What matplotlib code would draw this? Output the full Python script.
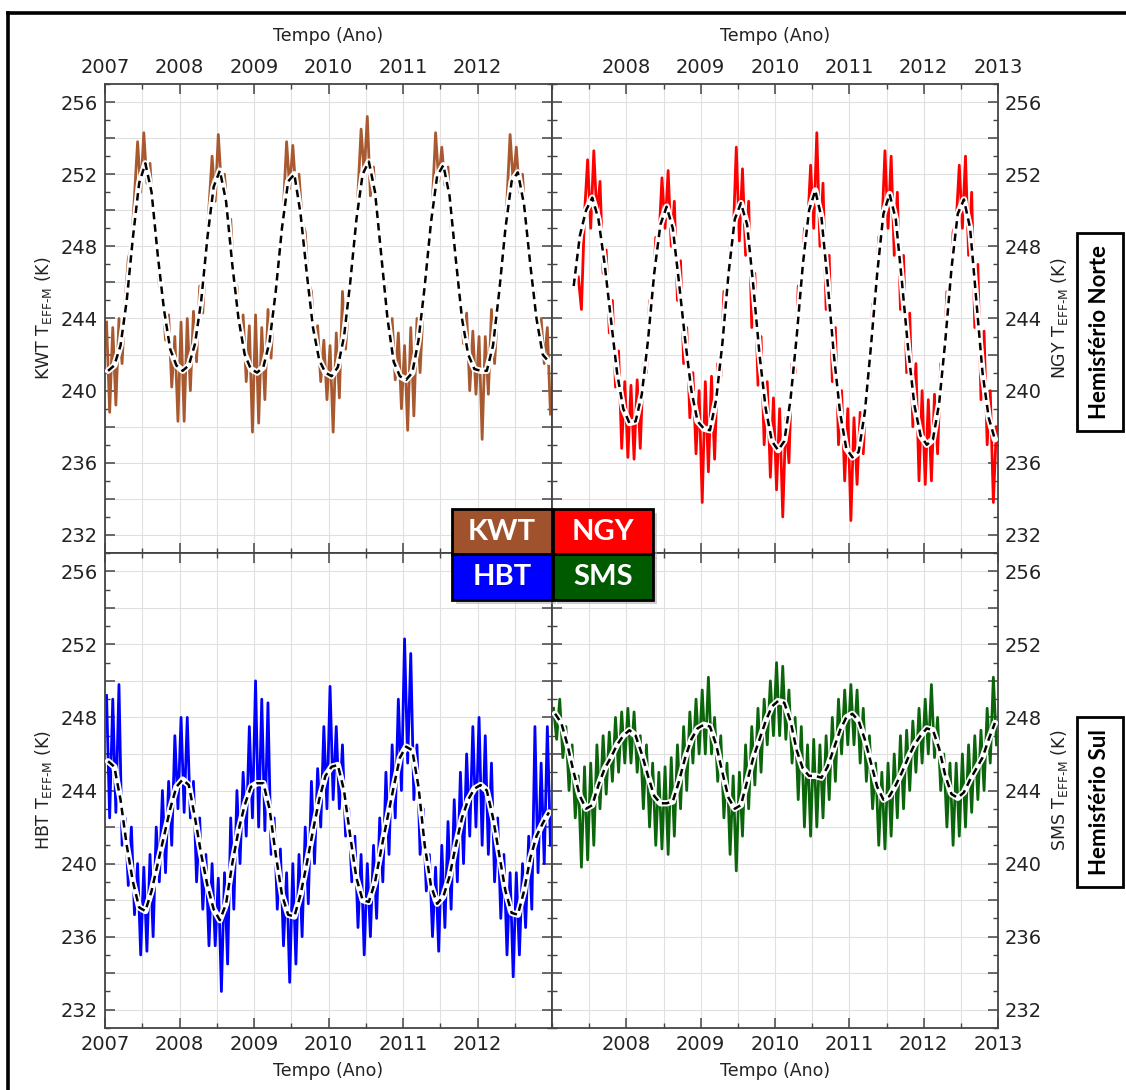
import numpy as np
import matplotlib.pyplot as plt
from matplotlib.patches import Rectangle
from matplotlib.lines import Line2D
from matplotlib.ticker import MultipleLocator

# station names and colours
stations = ["KWT", "NGY", "HBT", "SMS"]
colors = {"KWT": "#a8592f", "NGY": "#ff0000", "HBT": "#0000ff", "SMS": "#0b660b"}
legend_colors = {"KWT": "#a0522d", "NGY": "#ff0000", "HBT": "#0000ff", "SMS": "#005a00"}

top_years = [2007, 2008, 2009, 2010, 2011, 2012]
right_years = [2008, 2009, 2010, 2011, 2012, 2013]
y_labels = [232, 236, 240, 244, 248, 252, 256]

# smoothed (monthly) curves, mid-month values
kwt_smooth = [
    241.1, 241.4, 242.5, 245.0, 248.5, 251.5, 252.6, 251.0, 247.5, 244.5, 242.3, 241.4,
    241.1, 241.4, 242.6, 245.0, 248.5, 251.3, 252.2, 250.5, 247.0, 244.0, 242.0, 241.2,
    241.0, 241.3, 242.7, 245.5, 249.0, 251.6, 252.0, 249.8, 246.5, 243.5, 241.7, 241.0,
    240.8, 241.3, 243.0, 246.0, 249.5, 252.0, 252.7, 251.0, 247.5, 244.0, 241.6, 240.8,
    240.6, 241.0, 242.8, 245.8, 249.3, 251.9, 252.5, 250.8, 247.3, 244.0, 242.0, 241.2,
    241.1, 241.1, 242.5, 245.5, 249.0, 251.6, 252.1, 250.3, 247.0, 244.0, 242.0, 241.6,
]
# NGY starts in April 2007
ngy_smooth_start = 3
ngy_smooth = [
    245.8, 248.6, 250.0, 250.7, 249.5, 247.0, 244.0, 241.0, 239.0,
    238.2, 238.3, 239.8, 242.8, 246.5, 249.2, 250.2, 249.0, 246.0, 242.8, 240.0, 238.3,
    237.9, 237.8, 239.5, 242.6, 246.5, 249.5, 250.4, 249.2, 245.8, 242.0, 239.0, 237.2,
    236.7, 237.2, 239.5, 243.0, 247.0, 250.0, 251.1, 249.6, 246.0, 242.0, 238.8, 236.8,
    236.3, 236.6, 238.8, 242.5, 246.5, 249.8, 250.9, 249.5, 246.0, 242.3, 239.2, 237.5,
    237.0, 237.3, 239.3, 242.8, 246.8, 249.8, 250.6, 249.0, 245.0, 241.0, 238.5, 237.3,
]
hbt_smooth = [
    245.6, 245.3, 243.5, 241.0, 239.0, 237.6, 237.4, 238.5, 240.0, 241.5, 243.0, 244.2,
    244.6, 244.3, 242.5, 240.5, 238.8, 237.5, 236.9, 237.8, 240.0, 241.8, 243.2, 244.2,
    244.4, 244.4, 243.0, 240.5, 238.3, 237.2, 237.1, 238.3, 240.0, 241.8, 243.5, 244.8,
    245.3, 245.4, 244.0, 241.5, 239.2, 238.0, 237.9, 239.0, 240.8, 242.5, 244.2, 245.8,
    246.4, 246.2, 244.2, 241.0, 238.8, 237.8, 238.2, 239.3, 241.0, 242.5, 243.5, 244.1,
    244.3, 244.0, 242.5, 240.5, 238.5, 237.3, 237.2, 238.5, 240.3, 241.5, 242.2, 242.8,
]
sms_smooth = [
    248.2, 247.7, 246.5, 245.0, 243.7, 243.0, 243.2, 244.3, 245.2, 245.8, 246.5, 247.0,
    247.3, 247.0, 246.0, 244.8, 243.7, 243.3, 243.3, 243.4, 244.5, 245.8, 246.8, 247.4,
    247.6, 247.5, 246.5, 245.0, 243.6, 243.0, 243.2, 244.5, 245.8, 246.8, 247.8, 248.6,
    248.9, 248.8, 247.8, 246.2, 245.2, 244.8, 244.8, 244.7, 245.3, 246.3, 247.3, 248.0,
    248.2, 247.8, 246.8, 245.5, 244.2, 243.5, 243.7, 244.3, 245.0, 245.8, 246.5, 247.0,
    247.4, 247.3, 246.3, 244.8, 243.8, 243.6, 243.9, 244.6, 245.2, 245.8, 246.8, 247.7,
]

# noisy series, two readings per month (upper / lower excursions)
kwt_raw = [
    243.8, 238.8, 243.5, 239.2, 244.0, 241.5, 245.0, 247.3, 248.0, 250.8, 253.8, 251.0,
    254.3, 251.5, 252.6, 249.5, 248.8, 245.8, 245.5, 242.8, 244.2, 240.2, 243.0, 238.3,
    243.8, 238.3, 244.0, 240.0, 244.4, 241.6, 245.8, 244.3, 247.5, 250.2, 253.0, 250.5,
    254.2, 251.3, 252.0, 249.6, 249.5, 246.2, 245.8, 243.2, 244.2, 240.5, 243.6, 237.7,
    244.2, 238.2, 243.5, 239.5, 244.5, 241.8, 245.3, 247.0, 248.3, 250.2, 253.8, 251.2,
    253.6, 251.0, 252.0, 249.4, 248.8, 246.0, 245.5, 242.8, 243.6, 240.5, 242.8, 239.5,
    242.5, 237.7, 243.2, 239.6, 245.5, 242.3, 244.8, 246.6, 248.5, 251.0, 254.5, 252.0,
    255.2, 250.8, 252.4, 249.2, 248.8, 246.0, 245.8, 243.0, 244.0, 240.6, 243.2, 239.0,
    242.5, 237.8, 243.5, 238.6, 244.0, 241.0, 244.6, 246.8, 248.2, 250.6, 254.3, 251.6,
    253.5, 251.4, 252.4, 249.0, 248.6, 246.0, 245.5, 242.6, 244.3, 240.0, 243.3, 239.8,
    243.0, 237.3, 243.0, 239.8, 244.5, 241.5, 244.4, 246.6, 248.2, 250.6, 254.2, 251.5,
    253.5, 251.0, 252.0, 249.0, 248.0, 245.6, 245.5, 243.0, 244.0, 241.5, 243.5, 238.7,
]
# NGY raw data begins in May 2007
ngy_raw_start = 8
ngy_raw = [
    246.3, 244.5, 249.8, 252.8, 249.0, 253.3, 249.6, 251.6, 246.5, 247.8, 243.2, 245.0,
    240.2, 242.2, 236.8, 240.5,
    236.3, 240.3, 236.2, 240.6, 236.8, 241.5, 241.0, 245.0, 244.8, 248.5, 248.3, 251.8,
    249.0, 252.2, 248.0, 250.5, 245.0, 247.2, 241.5, 243.5, 238.5, 241.0, 236.5, 240.0,
    233.8, 240.5, 235.5, 240.8, 236.2, 241.5, 240.8, 245.5, 245.0, 248.0, 248.5, 253.5,
    248.3, 252.3, 247.5, 250.5, 243.5, 246.5, 240.3, 243.0, 237.0, 240.5, 235.2, 239.6,
    234.5, 239.0, 233.0, 238.5, 236.0, 241.5, 241.0, 245.8, 245.5, 249.0, 249.0, 252.5,
    249.0, 254.3, 248.0, 251.5, 244.5, 247.5, 240.5, 243.5, 237.0, 240.0, 235.0, 239.0,
    232.8, 238.5, 234.8, 238.8, 236.5, 240.5, 240.5, 244.8, 245.0, 248.5, 249.0, 253.3,
    249.0, 253.0, 247.5, 251.0, 244.5, 247.5, 241.0, 244.3, 238.0, 241.5, 235.0, 240.0,
    234.8, 239.5, 235.0, 239.8, 236.5, 241.5, 241.3, 245.5, 245.5, 248.8, 249.3, 252.5,
    249.0, 253.0, 247.5, 251.0, 243.5, 247.0, 239.5, 243.3, 237.0, 240.0, 233.8, 238.0,
]
hbt_raw = [
    249.2, 242.5, 249.0, 242.8, 249.8, 241.0, 242.5, 238.8, 242.0, 237.2, 240.0, 235.0,
    239.8, 235.2, 240.5, 236.0, 242.0, 239.0, 244.0, 239.5, 244.5, 241.0, 247.0, 243.0,
    248.0, 242.8, 248.0, 242.5, 244.5, 239.0, 242.5, 237.5, 240.5, 235.5, 240.0, 235.5,
    239.2, 233.0, 239.5, 234.5, 242.5, 237.5, 244.0, 240.0, 245.0, 241.5, 247.5, 242.5,
    250.0, 242.0, 249.0, 241.8, 248.8, 240.5, 242.5, 237.5, 240.8, 235.5, 239.5, 233.5,
    240.0, 234.5, 240.5, 236.0, 242.0, 237.8, 244.5, 240.0, 245.2, 242.0, 247.5, 243.0,
    249.7, 243.5, 247.5, 243.0, 246.5, 241.5, 243.0, 239.0, 241.5, 236.5, 240.5, 235.0,
    240.0, 236.0, 241.0, 237.0, 242.5, 239.0, 245.0, 240.5, 246.5, 242.5, 249.0, 244.0,
    252.3, 245.5, 251.5, 243.5, 246.5, 240.5, 243.0, 238.5, 240.5, 236.0, 239.8, 235.2,
    241.0, 236.5, 242.3, 237.5, 243.5, 239.0, 245.0, 240.0, 246.0, 241.5, 247.5, 242.0,
    248.0, 241.0, 247.0, 240.5, 245.5, 239.0, 242.5, 237.0, 240.5, 235.0, 239.5, 233.8,
    239.5, 235.0, 240.0, 236.5, 241.5, 237.5, 247.5, 239.5, 245.5, 240.0, 247.5, 241.0,
]
sms_raw = [
    248.5, 246.8, 249.0, 245.8, 247.5, 244.0, 246.5, 242.5, 244.8, 239.8, 245.3, 240.2,
    245.5, 241.0, 246.5, 243.0, 247.0, 243.8, 247.2, 244.5, 248.0, 245.0, 248.3, 245.5,
    248.5, 245.5, 248.3, 245.0, 247.0, 243.0, 246.5, 242.0, 245.5, 241.0, 245.0, 240.8,
    245.3, 240.5, 245.8, 241.5, 246.5, 243.0, 247.5, 244.0, 248.3, 245.5, 249.0, 246.0,
    249.5, 246.0, 250.2, 246.0, 248.0, 244.5, 247.0, 242.5, 245.5, 240.5, 244.8, 239.6,
    245.0, 241.5, 246.5, 243.0, 247.5, 244.3, 248.5, 245.0, 249.0, 246.5, 250.0, 247.0,
    251.0, 247.0, 250.8, 246.8, 249.5, 245.5, 248.0, 243.5, 247.5, 242.0, 246.5, 241.5,
    246.8, 242.0, 246.5, 242.5, 247.0, 243.5, 248.0, 244.5, 249.0, 246.0, 249.5, 246.5,
    249.8, 246.5, 249.5, 245.5, 248.5, 244.5, 247.0, 243.0, 245.5, 241.0, 245.0, 240.8,
    245.5, 241.5, 246.0, 242.5, 247.0, 243.0, 247.3, 244.0, 247.8, 245.0, 248.5, 245.5,
    249.0, 246.0, 249.8, 245.8, 248.0, 244.0, 246.0, 242.0, 245.5, 241.0, 245.5, 241.5,
    246.0, 242.0, 246.5, 242.8, 247.0, 243.5, 247.3, 244.0, 248.5, 245.5, 250.2, 246.5,
]


def monthly_time(n, start=0):
    return 2007 + (np.arange(n) + start + 0.5) / 12.0


def half_month_time(n, start=0):
    return 2007 + (np.arange(n) + start + 0.5) / 24.0


series = {
    "KWT": (half_month_time(len(kwt_raw)), kwt_raw,
            monthly_time(len(kwt_smooth)), kwt_smooth),
    "NGY": (half_month_time(len(ngy_raw), ngy_raw_start), ngy_raw,
            monthly_time(len(ngy_smooth), ngy_smooth_start), ngy_smooth),
    "HBT": (half_month_time(len(hbt_raw)), hbt_raw,
            monthly_time(len(hbt_smooth)), hbt_smooth),
    "SMS": (half_month_time(len(sms_raw)), sms_raw,
            monthly_time(len(sms_smooth)), sms_smooth),
}

W, H = 1126, 1090
fig = plt.figure(figsize=(W / 100, H / 100), dpi=100)
plt.rcParams["font.family"] = "DejaVu Sans"


def fx(px):
    return px / W


def fy(py):
    return 1 - py / H


panels = {
    "KWT": [fx(105), fy(553), fx(552) - fx(105), fy(84) - fy(553)],
    "NGY": [fx(552), fy(553), fx(998) - fx(552), fy(84) - fy(553)],
    "HBT": [fx(105), fy(1028), fx(552) - fx(105), fy(553) - fy(1028)],
    "SMS": [fx(552), fy(1028), fx(998) - fx(552), fy(553) - fy(1028)],
}

axis_col = "#444444"
sub = "EFF\u2010M"
for name in stations:
    ax = fig.add_axes(panels[name])
    t_raw, v_raw, t_s, v_s = series[name]
    ax.plot(t_raw, v_raw, color=colors[name], lw=2.0, zorder=2)
    ax.plot(t_s, v_s, color="white", lw=4.5, solid_capstyle="round", zorder=3)
    ax.plot(t_s, v_s, color="black", lw=1.8, dashes=(3, 2), zorder=4)

    ax.set_xlim(2007, 2013)
    ax.set_ylim(231, 257)
    ax.xaxis.set_major_locator(MultipleLocator(1))
    ax.xaxis.set_minor_locator(MultipleLocator(0.5))
    ax.yaxis.set_major_locator(MultipleLocator(2))
    ax.yaxis.set_minor_locator(MultipleLocator(1))
    ax.grid(True, which="both", axis="x", color="#e0e0e0", lw=0.8, zorder=0)
    ax.grid(True, which="major", axis="y", color="#e0e0e0", lw=0.8, zorder=0)

    is_top = name in ("KWT", "NGY")
    is_left = name in ("KWT", "HBT")
    ax.tick_params(which="both", direction="in", top=True, bottom=True,
                   left=True, right=True, colors=axis_col, labelcolor="#222222",
                   labelsize=14)
    ax.tick_params(which="major", length=7, width=1.1)
    ax.tick_params(which="minor", length=3.5, width=1.0)
    ax.tick_params(axis="x", labeltop=is_top, labelbottom=not is_top, pad=5)
    ax.tick_params(axis="y", labelleft=is_left, labelright=not is_left, pad=5)
    for s in ax.spines.values():
        s.set_color(axis_col)
        s.set_linewidth(1.3)

    xt = top_years if is_left else right_years
    ax.set_xticks(xt)
    ax.set_xticklabels([str(y) for y in xt])
    yt = np.arange(232, 257, 2)
    ax.set_yticks(yt)
    ax.set_yticklabels([str(v) if v in y_labels else "" for v in yt])

    if is_top:
        ax.xaxis.set_label_position("top")
        ax.set_xlabel("Tempo (Ano)", fontsize=12.5, color="#222222", labelpad=12)
    else:
        ax.set_xlabel("Tempo (Ano)", fontsize=12.5, color="#222222", labelpad=6)
    if not is_left:
        ax.yaxis.set_label_position("right")
    ax.set_ylabel(name + " T$_{\\mathregular{" + sub + "}}$ (K)", fontsize=12.5,
                  color="#222222", labelpad=5)

# legend boxes in the middle
cells = [("KWT", 452, 509), ("NGY", 553, 509), ("HBT", 452, 554), ("SMS", 553, 554)]
cw, ch = 100, 46
for name, x0, y0 in cells:
    fig.patches.append(Rectangle((fx(x0 + 4), fy(y0 + ch + 4)), fx(cw), fy(0) - fy(ch),
                                 transform=fig.transFigure, facecolor="#a0a0a0",
                                 edgecolor="none", alpha=0.5, zorder=9))
for name, x0, y0 in cells:
    fig.patches.append(Rectangle((fx(x0), fy(y0 + ch)), fx(cw), fy(0) - fy(ch),
                                 transform=fig.transFigure, facecolor=legend_colors[name],
                                 edgecolor="black", lw=2, zorder=10))
    fig.text(fx(x0 + cw / 2), fy(y0 + ch / 2), name, color="white", fontsize=21,
             fontweight="bold", family="Lato", ha="center", va="center", zorder=11)

# hemisphere labels
for txt, yc in [("Hemisfério Norte", 332), ("Hemisfério Sul", 802)]:
    fig.text(fx(1100), fy(yc), txt, rotation=90, fontsize=16, fontweight="bold",
             family="Lato", ha="center", va="center",
             bbox=dict(boxstyle="square,pad=0.55", fc="white", ec="black", lw=2))

# outer frame (top and left edges visible)
fig.lines.append(Line2D([fx(8), fx(1140)], [fy(13), fy(13)], transform=fig.transFigure,
                        color="black", lw=2.6))
fig.lines.append(Line2D([fx(8), fx(8)], [fy(13), fy(1100)], transform=fig.transFigure,
                        color="black", lw=2.6))

fig.savefig("out.png", dpi=100)
